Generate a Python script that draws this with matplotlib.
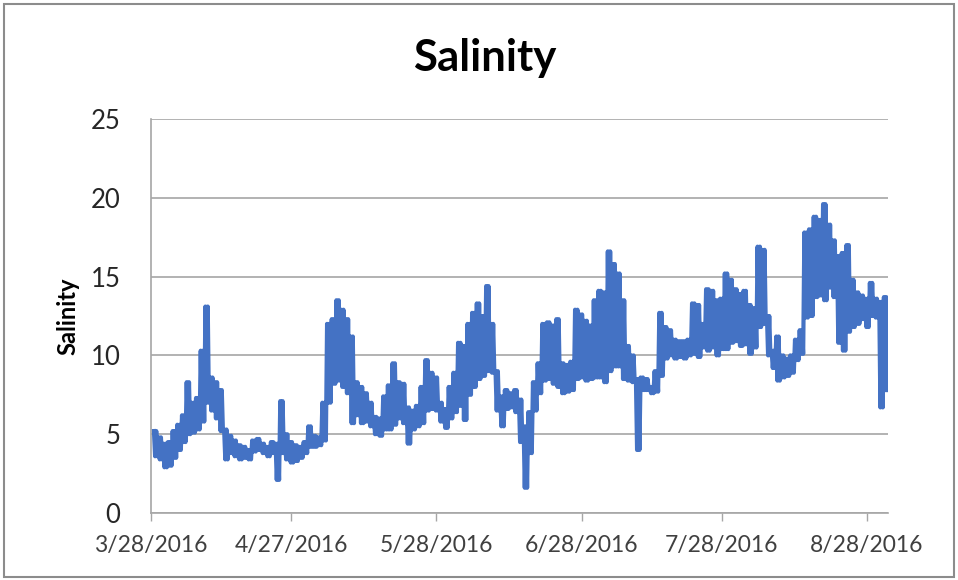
import datetime
import numpy as np
import matplotlib
matplotlib.use("Agg")
import matplotlib.pyplot as plt
import matplotlib.dates as mdates

# salinity logger, daily high / low readings counted from the start date
start = datetime.date(2016, 3, 28)
day = np.arange(1, 158)

hi = [5.2, 4.8, 4.4, 4.5, 5.2, 5.6, 6.2, 8.3, 7.0, 7.3,
      10.3, 13.1, 8.6, 8.3, 7.8, 5.3, 4.9, 4.6, 4.3, 4.2,
      4.0, 4.6, 4.7, 4.4, 4.2, 4.5, 4.4, 7.1, 5.0, 4.5,
      4.3, 4.2, 4.5, 5.5, 4.9, 4.8, 7.0, 12.0, 12.3, 13.5,
      12.9, 12.3, 11.2, 8.3, 8.0, 7.6, 7.0, 6.1, 6.0, 7.4,
      8.1, 9.5, 8.3, 8.2, 6.7, 6.5, 6.8, 8.0, 9.7, 8.9,
      8.6, 7.0, 6.6, 8.0, 8.9, 10.8, 10.6, 12.0, 12.7, 13.3,
      12.5, 14.4, 12.0, 9.0, 7.4, 7.8, 7.6, 7.8, 7.2, 5.5,
      6.4, 8.3, 9.5, 12.0, 12.1, 11.9, 12.3, 9.5, 9.4, 9.6,
      12.9, 12.6, 12.2, 11.9, 13.5, 14.1, 14.0, 16.6, 15.8, 15.2,
      13.5, 10.6, 10.0, 8.5, 8.6, 8.5, 8.0, 9.0, 12.7, 11.8,
      11.6, 11.0, 10.9, 10.9, 11.0, 13.3, 13.2, 12.0, 14.2, 14.1,
      13.5, 13.6, 15.2, 14.8, 14.2, 13.9, 14.1, 13.2, 13.0, 16.9,
      16.7, 12.5, 10.3, 11.2, 10.0, 9.8, 10.0, 11.0, 11.6, 17.8,
      18.0, 18.8, 18.6, 19.6, 18.3, 17.3, 16.3, 16.5, 17.0, 14.8,
      14.0, 13.8, 13.6, 14.6, 13.6, 13.4, 13.7]

lo = [3.6, 3.4, 2.9, 3.0, 3.5, 4.0, 4.5, 5.0, 5.1, 5.3,
      5.8, 7.0, 6.5, 6.0, 5.2, 3.4, 3.8, 3.6, 3.4, 3.5,
      3.4, 3.9, 4.0, 3.8, 3.6, 3.8, 2.1, 3.8, 3.4, 3.2,
      3.3, 3.5, 3.8, 4.2, 4.2, 4.3, 4.6, 7.0, 8.2, 8.4,
      8.0, 7.6, 5.7, 6.2, 5.7, 5.8, 5.5, 5.0, 4.9, 5.3,
      5.3, 5.6, 6.0, 5.7, 4.4, 5.3, 5.5, 5.7, 6.5, 6.6,
      6.5, 5.8, 5.4, 6.0, 6.4, 6.8, 5.9, 7.5, 8.0, 8.5,
      8.7, 9.0, 8.9, 6.5, 5.5, 6.6, 6.7, 6.4, 4.5, 1.6,
      3.8, 6.5, 7.6, 8.4, 8.5, 8.2, 8.0, 7.6, 7.7, 7.8,
      8.5, 8.6, 8.4, 8.5, 8.6, 8.6, 8.3, 9.0, 9.3, 9.3,
      8.5, 8.4, 8.3, 4.0, 7.8, 7.8, 7.6, 7.7, 8.7, 9.8,
      10.0, 9.8, 9.9, 9.8, 10.0, 10.1, 9.9, 10.5, 10.3, 10.5,
      10.0, 10.4, 10.4, 10.8, 10.9, 10.6, 10.7, 10.1, 10.5, 11.8,
      12.0, 10.0, 9.2, 8.4, 8.6, 8.7, 8.9, 9.7, 10.1, 12.4,
      12.5, 13.7, 13.8, 13.5, 14.3, 13.7, 10.8, 10.3, 11.5, 11.8,
      12.0, 12.3, 11.8, 12.5, 12.4, 6.7, 7.8]

tick_dates = [datetime.date(2016, 3, 28), datetime.date(2016, 4, 27),
              datetime.date(2016, 5, 28), datetime.date(2016, 6, 28),
              datetime.date(2016, 7, 28), datetime.date(2016, 8, 28)]

BLUE = "#4472C4"
GRID = "#A6A6A6"
FONT = "Lato"

# keep every zigzag vertex, otherwise the tidal band gets thinned out
plt.rcParams["path.simplify"] = False

# two tides a day: high, low, high, low at quarter-day steps
t0 = mdates.date2num(start)
offs = np.array([-0.375, -0.125, 0.125, 0.375])
x = t0 + (day[:, None] + offs[None, :]).ravel()
hi_a = np.array(hi)
lo_a = np.array(lo)
y = np.column_stack([hi_a, lo_a, hi_a, lo_a]).ravel()

fig = plt.figure(figsize=(9.58, 5.8), dpi=100)
ax = fig.add_axes([151 / 958, 67 / 580, 737 / 958, 394 / 580])

ax.plot(x, y, color=BLUE, linewidth=3.0, solid_joinstyle="round")

ax.set_ylim(0, 25)
ax.set_yticks([0, 5, 10, 15, 20, 25])
ax.set_xlim(t0, t0 + 157.5)
ticks = [mdates.date2num(d) for d in tick_dates]
ax.set_xticks(ticks)
ax.set_xticklabels([f"{d.month}/{d.day}/{d.year}" for d in tick_dates],
                   fontsize=16.5, family=FONT, color="#404040")
for lab in ax.get_yticklabels():
    lab.set_fontsize(18.5)
    lab.set_family(FONT)
    lab.set_color("#262626")

ax.yaxis.grid(True, color=GRID, linewidth=1.2)
ax.set_axisbelow(True)
ax.tick_params(axis="y", length=0, pad=22)
ax.tick_params(axis="x", length=6, width=1, color=GRID, direction="out", pad=10)
for side in ["top", "right"]:
    ax.spines[side].set_visible(False)
for side in ["left", "bottom"]:
    ax.spines[side].set_color(GRID)
    ax.spines[side].set_linewidth(1.2)

ax.set_ylabel("Salinity", fontsize=17, fontweight="bold", family=FONT, labelpad=8)
fig.text(0.506, 0.9, "Salinity", ha="center", va="center",
         fontsize=31.5, fontweight="bold", family=FONT)

# thin frame round the whole chart
fig.patches.append(plt.Rectangle((4 / 958, 3 / 580), 950 / 958, 573 / 580,
                                 transform=fig.transFigure, fill=False,
                                 edgecolor="#8C8C8C", linewidth=1.5))

fig.savefig("out.png", dpi=100)
